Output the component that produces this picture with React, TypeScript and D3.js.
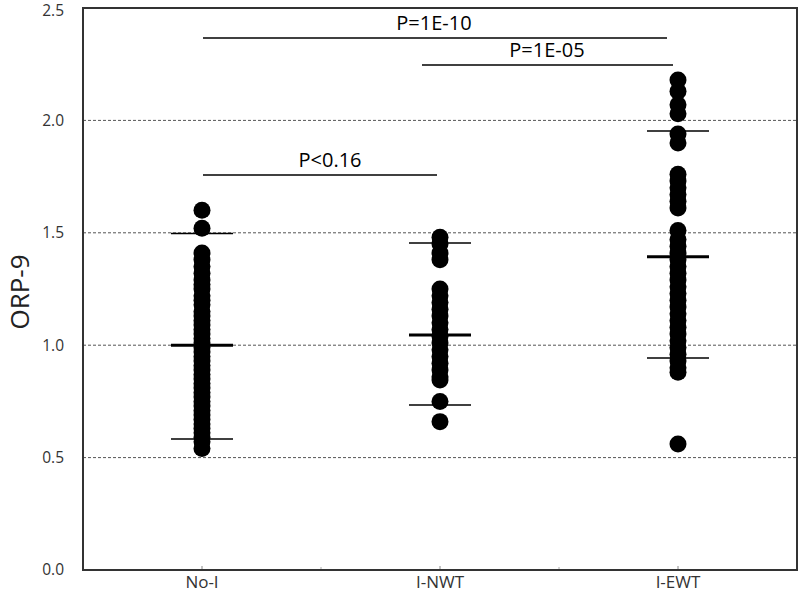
import React, { useEffect } from "react";
import * as d3 from "d3";

const categories = ["No-I", "I-NWT", "I-EWT"];

const valuesNoI = [
  1.6, 1.52, 1.41, 1.38, 1.35, 1.32, 1.29, 1.27, 1.25, 1.22, 1.2, 1.18, 1.15, 1.13,
  1.11, 1.09, 1.07, 1.05, 1.03, 1.01, 0.99, 0.97, 0.95, 0.93, 0.91, 0.89, 0.87,
  0.85, 0.83, 0.81, 0.79, 0.77, 0.75, 0.73, 0.71, 0.69, 0.67, 0.65, 0.63, 0.61,
  0.59, 0.57, 0.54,
];
const valuesNWT = [
  1.48, 1.45, 1.41, 1.38, 1.25, 1.22, 1.19, 1.16, 1.13, 1.1, 1.07, 1.04, 1.01, 0.98,
  0.95, 0.92, 0.89, 0.86, 0.845, 0.75, 0.66,
];
const valuesEWT = [
  2.18, 2.13, 2.07, 2.03, 1.94, 1.9, 1.76, 1.73, 1.7, 1.67, 1.64, 1.61, 1.51, 1.47,
  1.44, 1.41, 1.38, 1.35, 1.32, 1.29, 1.26, 1.23, 1.2, 1.17, 1.14, 1.11, 1.08, 1.05,
  1.02, 0.99, 0.96, 0.93, 0.9, 0.88, 0.56,
];
const groupValues = [valuesNoI, valuesNWT, valuesEWT];

const means = [1.0, 1.045, 1.393];
const sdUpper = [1.497, 1.455, 1.953];
const sdLower = [0.583, 0.734, 0.943];

const yTicks = [0, 0.5, 1.0, 1.5, 2.0, 2.5];
const gridValues = [0.5, 1.0, 1.5, 2.0];

const comparisons = [
  { from: 0, to: 1, y: 1.757, label: "P<0.16" },
  { from: 0, to: 2, y: 2.367, label: "P=1E-10" },
  { from: 1, to: 2, y: 2.246, label: "P=1E-05" },
];
const compLineExtents = [
  [203, 437],
  [203, 667],
  [422, 673],
];
const compLabelX = [330, 434, 547];

const yLabel = "ORP-9";

export default function App() {
  useEffect(() => {
    document.body.style.margin = "0";
  }, []);

  const W = 800;
  const H = 601;
  const left = 83;
  const right = 797;
  const top = 8;
  const bottom = 570;

  const y = d3.scaleLinear().domain([0, 2.5]).range([bottom, top]);
  const x = d3.scaleBand<string>().domain(categories).range([left, right]);
  const cx = (i: number) => (x(categories[i]) as number) + x.bandwidth() / 2;
  const halfW = 31;
  const font = "'Open Sans', 'Noto Sans', sans-serif";

  const boundaries = d3.range(categories.length + 1).map((i) => left + i * x.bandwidth());

  return (
    <svg width={W} height={H} style={{ position: "absolute", left: 0, top: 0, background: "#fff" }}>
      <rect x={0} y={0} width={W} height={H} fill="#fff" />
      {gridValues.map((g) => (
        <line
          key={g}
          x1={left}
          x2={right}
          y1={y(g)}
          y2={y(g)}
          stroke="#555"
          strokeWidth={1}
          strokeDasharray="3,2"
        />
      ))}
      {categories.map((c, i) => (
        <line key={c} x1={cx(i)} x2={cx(i)} y1={bottom} y2={bottom - 4} stroke="#888" strokeWidth={1} />
      ))}
      {boundaries.slice(1, -1).map((b) => (
        <line key={b} x1={b} x2={b} y1={bottom} y2={bottom - 3} stroke="#aaa" strokeWidth={1} />
      ))}
      {groupValues.map((vals, i) =>
        vals.map((v, j) => <circle key={`${i}-${j}`} cx={cx(i)} cy={y(v)} r={8.5} fill="#000" />)
      )}
      {categories.map((c, i) => (
        <g key={`m-${c}`}>
          <line x1={cx(i) - halfW} x2={cx(i) + halfW} y1={y(means[i])} y2={y(means[i])} stroke="#000" strokeWidth={3} />
          <line x1={cx(i) - halfW} x2={cx(i) + halfW} y1={y(sdUpper[i])} y2={y(sdUpper[i])} stroke="#000" strokeWidth={1.5} />
          <line x1={cx(i) - halfW} x2={cx(i) + halfW} y1={y(sdLower[i])} y2={y(sdLower[i])} stroke="#000" strokeWidth={1.5} />
        </g>
      ))}
      {comparisons.map((cmp, k) => (
        <g key={cmp.label}>
          <line
            x1={compLineExtents[k][0]}
            x2={compLineExtents[k][1]}
            y1={y(cmp.y)}
            y2={y(cmp.y)}
            stroke="#000"
            strokeWidth={1.5}
          />
          <text
            x={compLabelX[k]}
            y={y(cmp.y) - 8}
            textAnchor="middle"
            fontFamily={font}
            fontSize={20}
            fill="#000"
          >
            {cmp.label}
          </text>
        </g>
      ))}
      <rect x={left} y={top} width={right - left} height={bottom - top} fill="none" stroke="#333" strokeWidth={2} />
      {yTicks.map((t) => (
        <text
          key={t}
          x={64}
          y={Math.max(y(t), 11)}
          dy="0.35em"
          textAnchor="end"
          fontFamily={font}
          fontSize={15.5}
          fill="#333"
        >
          {d3.format(".1f")(t)}
        </text>
      ))}
      {categories.map((c, i) => (
        <text
          key={`xl-${c}`}
          x={cx(i)}
          y={588}
          textAnchor="middle"
          fontFamily={font}
          fontSize={17}
          fill="#333"
        >
          {c}
        </text>
      ))}
      <text
        transform={`translate(29, ${292}) rotate(-90)`}
        textAnchor="middle"
        fontFamily={font}
        fontSize={26}
        fill="#222"
      >
        {yLabel}
      </text>
    </svg>
  );
}
